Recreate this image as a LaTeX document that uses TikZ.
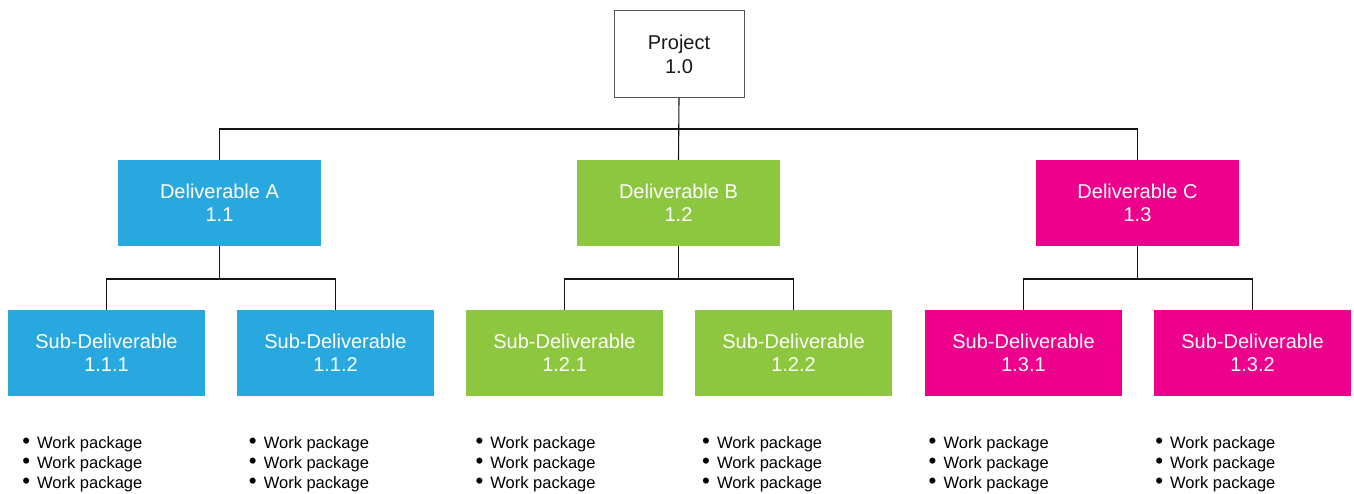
\documentclass[tikz,border=0pt]{standalone}
\usepackage{fontspec}
\setmainfont{Liberation Sans}
\definecolor{delA}{RGB}{41,168,224}
\definecolor{delB}{RGB}{141,198,63}
\definecolor{delC}{RGB}{236,0,140}
\definecolor{frame}{RGB}{85,85,85}
\definecolor{wire}{RGB}{20,20,20}
\newcommand\wpitem{\makebox[14.9pt][l]{\raisebox{-0.9pt}{\scalebox{1.35}{\textbullet}}}Work package}
\tikzset{
  boxtext/.style={font=\fontsize{20}{23.5}\selectfont, align=center, inner sep=0pt, outer sep=0pt},
  rootbox/.style={boxtext, draw=frame, line width=1pt, fill=white, text=black!90,
                  minimum width=130pt, minimum height=87pt},
  delbox/.style={boxtext, fill=#1, text=white, minimum width=203pt, minimum height=86pt},
  subbox/.style={boxtext, fill=#1, text=white, minimum width=197pt, minimum height=86pt},
  wire/.style={draw=wire, line width=1.1pt},
  wpline/.style={font=\fontsize{16.5}{20}\selectfont, inner sep=0pt, anchor=base west, text=black}
}
\begin{document}
\begin{tikzpicture}[x=1pt,y=1pt]
\useasboundingbox (0,0) rectangle (1354,493);

% root
\node[rootbox] (p) at (679,438.5) {Project\\1.0};

% deliverables
\node[delbox=delA] (dA) at (219.5,290) {Deliverable A\\1.1};
\node[delbox=delB] (dB) at (678.5,290) {Deliverable B\\1.2};
\node[delbox=delC] (dC) at (1137.5,290) {Deliverable C\\1.3};

% sub-deliverables
\node[subbox=delA] (sA1) at (106.5,140) {Sub-Deliverable\\1.1.1};
\node[subbox=delA] (sA2) at (335.5,140) {Sub-Deliverable\\1.1.2};
\node[subbox=delB] (sB1) at (564.5,140) {Sub-Deliverable\\1.2.1};
\node[subbox=delB] (sB2) at (793.5,140) {Sub-Deliverable\\1.2.2};
\node[subbox=delC] (sC1) at (1023.5,140) {Sub-Deliverable\\1.3.1};
\node[subbox=delC] (sC2) at (1252.5,140) {Sub-Deliverable\\1.3.2};

% connectors: root to deliverables
\draw[wire] (p.south) -- (dB.north);
\draw[wire] (dA.north) -- ++(0,31) -| (dC.north);

% connectors: deliverables to sub-deliverables
\foreach \d in {A,B,C}{
  \draw[wire] (d\d.south) -- ++(0,-33) coordinate (j\d);
  \draw[wire] (s\d1.north) |- (j\d) -| (s\d2.north);
}

% work package lists
\foreach \i in {0,...,5}{
  \pgfmathsetmacro\wx{37+226.6*\i-14.9}
  \node[wpline] (w\i a) at (\wx,45) {\wpitem};
  \node[wpline] (w\i b) at (\wx,25) {\wpitem};
  \node[wpline] (w\i c) at (\wx,5) {\wpitem};
}
\end{tikzpicture}
\end{document}
